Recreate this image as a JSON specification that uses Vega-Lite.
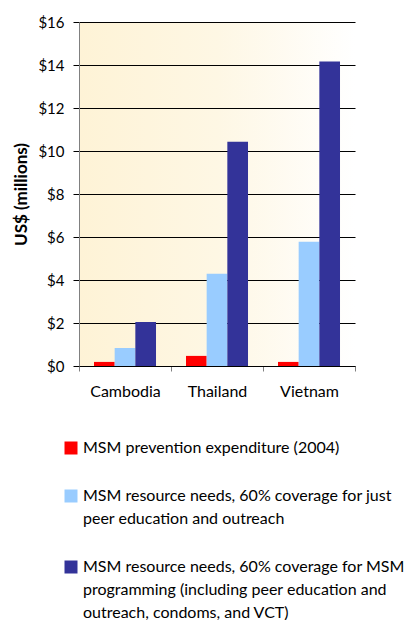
{
  "$schema": "https://vega.github.io/schema/vega-lite/v6.json",
  "width": 276,
  "height": 344,
  "autosize": {"type": "none"},
  "padding": {"left": 79, "top": 22, "right": 55, "bottom": 254},
  "background": "white",
  "config": {
    "font": "Lato",
    "style": {"guide-label": {"lineHeight": 23}},
    "view": {
      "stroke": null,
      "fill": {
        "gradient": "linear",
        "x1": 0, "y1": 0, "x2": 1, "y2": 0,
        "stops": [
          {"offset": 0, "color": "#FEF3D6"},
          {"offset": 0.5, "color": "#FEF7E4"},
          {"offset": 1, "color": "#FFFFFF"}
        ]
      }
    }
  },
  "data": {
    "values": [
      {"country": "Cambodia", "series": "MSM prevention expenditure (2004)", "value": 0.19},
      {"country": "Cambodia", "series": "MSM resource needs, 60% coverage for just\npeer education and outreach", "value": 0.84},
      {"country": "Cambodia", "series": "MSM resource needs, 60% coverage for MSM\nprogramming (including peer education and\noutreach, condoms, and VCT)", "value": 2.05},
      {"country": "Thailand", "series": "MSM prevention expenditure (2004)", "value": 0.47},
      {"country": "Thailand", "series": "MSM resource needs, 60% coverage for just\npeer education and outreach", "value": 4.29},
      {"country": "Thailand", "series": "MSM resource needs, 60% coverage for MSM\nprogramming (including peer education and\noutreach, condoms, and VCT)", "value": 10.43},
      {"country": "Vietnam", "series": "MSM prevention expenditure (2004)", "value": 0.19},
      {"country": "Vietnam", "series": "MSM resource needs, 60% coverage for just\npeer education and outreach", "value": 5.78},
      {"country": "Vietnam", "series": "MSM resource needs, 60% coverage for MSM\nprogramming (including peer education and\noutreach, condoms, and VCT)", "value": 14.16}
    ]
  },
  "mark": {"type": "bar"},
  "encoding": {
    "x": {
      "field": "country",
      "type": "nominal",
      "sort": null,
      "scale": {"paddingInner": 0, "paddingOuter": 0},
      "axis": {
        "title": null,
        "labelAngle": 0,
        "tickBand": "extent",
        "grid": false,
        "domainColor": "#000000",
        "tickColor": "#808080",
        "tickSize": 5,
        "labelFontSize": 16,
        "labelColor": "#000000",
        "labelPadding": 12
      }
    },
    "xOffset": {
      "field": "series",
      "sort": null,
      "scale": {"paddingInner": 0, "paddingOuter": 0.725}
    },
    "y": {
      "field": "value",
      "type": "quantitative",
      "scale": {"domain": [0, 16]},
      "axis": {
        "title": "US$ (millions)",
        "titleFontSize": 17,
        "titleFontWeight": "bold",
        "titleColor": "#000000",
        "titlePadding": 7,
        "values": [0, 2, 4, 6, 8, 10, 12, 14, 16],
        "labelExpr": "'$' + datum.value",
        "labelFontSize": 15,
        "labelColor": "#000000",
        "labelPadding": 9,
        "tickSize": 6,
        "tickColor": "#000000",
        "domainColor": "#808080",
        "grid": true,
        "gridColor": "#000000",
        "gridOpacity": 1,
        "gridWidth": 1
      }
    },
    "color": {
      "field": "series",
      "type": "nominal",
      "sort": null,
      "scale": {
        "domain": [
          "MSM prevention expenditure (2004)",
          "MSM resource needs, 60% coverage for just\npeer education and outreach",
          "MSM resource needs, 60% coverage for MSM\nprogramming (including peer education and\noutreach, condoms, and VCT)"
        ],
        "range": ["#FF0000", "#99CCFF", "#333399"]
      },
      "legend": {
        "title": null,
        "orient": "none",
        "legendX": -16,
        "legendY": 418,
        "direction": "vertical",
        "symbolType": "square",
        "symbolSize": 169,
        "symbolStrokeWidth": 0,
        "symbolOpacity": 1,
        "labelFontSize": 16,
        "labelColor": "#000000",
        "labelLimit": 0,
        "labelOffset": 4,
        "labelExpr": "split(datum.label, '\\n')",
        "rowPadding": 32
      }
    }
  }
}
